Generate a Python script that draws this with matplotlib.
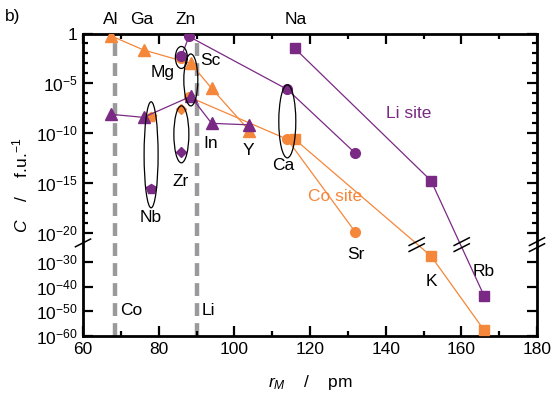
import numpy as np
import matplotlib
matplotlib.use("Agg")
import matplotlib.pyplot as plt
from matplotlib.patches import Ellipse
from matplotlib.lines import Line2D
from matplotlib.transforms import ScaledTranslation

plt.rcParams['font.family'] = ['Liberation Sans', 'DejaVu Sans']
plt.rcParams['mathtext.fontset'] = 'custom'
plt.rcParams['mathtext.rm'] = 'Liberation Sans'
plt.rcParams['mathtext.it'] = 'Liberation Sans:italic'
plt.rcParams['font.size'] = 12.5

ORANGE = "#F5873A"
PURPLE = "#7A2A84"
GREY = "#9A9A9C"

# ---- data: ionic radius r_M (pm) and concentration C (f.u.^-1) ----
tri_x = [67.5, 76, 88.5, 94, 104]            # Al, Ga, Sc, In, Y
li_tri = [10**-8.1, 10**-8.4, 10**-6.3, 10**-9.0, 10**-9.15]
co_tri = [10**-0.25, 10**-1.65, 10**-3.0, 10**-5.5, 10**-9.75]

circ_x = [86, 88, 114, 132]                  # Mg, Zn, Ca, Sr
li_circ = [10**-2.3, 10**-0.3, 10**-5.6, 10**-12.0]
co_circ = [10**-2.5, 10**-6.35, 10**-10.6, 10**-19.9]

sq_x = [116, 152, 166]                       # Na, K, Rb
li_sq = [10**-1.5, 10**-14.75, 10**-43.7]
co_sq = [10**-10.6, 10**-28.0, 10**-57.6]

zr_x, li_zr, co_zr = 86, 10**-11.9, 10**-7.6
nb_x, li_nb, co_nb = 78, 10**-15.6, 10**-8.4

host_x = [68.5, 90]                          # Co, Li
host_lbl = ["Co", "Li"]

ytick_vals = [1, 1e-5, 1e-10, 1e-15, 1e-20, 1e-30, 1e-40, 1e-50, 1e-60]
ytick_lbls = ["1", "$10^{-5}$", "$10^{-10}$", "$10^{-15}$", "$10^{-20}$",
              "$10^{-30}$", "$10^{-40}$", "$10^{-50}$", "$10^{-60}$"]


# broken log axis: 1..1e-20 full scale, 1e-20..1e-30 gap, below compressed
def fwd(c):
    L = np.log10(np.clip(np.asarray(c, dtype=float), 1e-300, None))
    return np.where(L >= -20, L,
                    np.where(L >= -30, -20 + (L + 20) * 0.287,
                             -22.87 + (L + 30) * 0.2477))


def inv(t):
    t = np.asarray(t, dtype=float)
    L = np.where(t >= -20, t,
                 np.where(t >= -22.87, -20 + (t + 20) / 0.287,
                          -30 + (t + 22.87) / 0.2477))
    return 10.0 ** L


fig = plt.figure(figsize=(5.56, 4.07), dpi=100)
ax = fig.add_axes([83 / 556, 1 - 336 / 407, 454 / 556, 302.5 / 407])
ax.set_yscale('function', functions=(fwd, inv))
ax.set_xlim(60, 180)
ax.set_ylim(1e-60, 1)

for hx in host_x:
    ax.axvline(hx, color=GREY, lw=3.2, ls=(0, (2.9, 1.6)), zorder=1)

lw = 0.9
ax.plot(tri_x, co_tri, '-^', color=ORANGE, lw=lw, ms=8, zorder=3)
ax.plot(circ_x[1:], co_circ[1:], '-', color=ORANGE, lw=lw, zorder=3)
ax.plot(circ_x, co_circ, 'o', color=ORANGE, ms=7, zorder=3)
ax.plot(sq_x, co_sq, '-s', color=ORANGE, lw=lw, ms=6.5, zorder=3)
ax.plot(zr_x, co_zr, 'D', color=ORANGE, ms=5.5, zorder=3)
ax.plot(nb_x, co_nb, 'p', color=ORANGE, ms=7.5, zorder=3)

ax.plot(circ_x, li_circ, '-o', color=PURPLE, lw=lw, ms=7, zorder=4)
ax.plot(tri_x, li_tri, '-^', color=PURPLE, lw=lw, ms=8, zorder=4)
ax.plot(sq_x, li_sq, '-s', color=PURPLE, lw=lw, ms=6.5, zorder=4)
ax.plot(zr_x, li_zr, 'D', color=PURPLE, ms=5.5, zorder=4)
ax.plot(nb_x, li_nb, 'p', color=PURPLE, ms=7.5, zorder=4)


def at(x, y):
    return fig.dpi_scale_trans + ScaledTranslation(x, y, ax.transData)


# ellipses grouping the two sites (sizes in inches)
for ex, ey, w, h in [(86, 10**-2.4, 0.12, 0.22), (88.5, 10**-4.65, 0.14, 0.52),
                     (78, 10**-12.15, 0.14, 1.06), (86, 10**-10.1, 0.15, 0.57),
                     (114, 10**-8.8, 0.17, 0.73)]:
    ax.add_patch(Ellipse((0, 0), w, h, transform=at(ex, ey), fill=False,
                         ec='black', lw=0.9, zorder=5))


# axis-break marks
def brk(x, y, n, ln=0.17, ang=27):
    dx = ln / 2 * np.cos(np.radians(ang))
    dy = ln / 2 * np.sin(np.radians(ang))
    offs = [0] if n == 1 else [0.03, -0.03]
    for o in offs:
        fig.add_artist(Line2D([-dx, dx], [-dy + o, dy + o], transform=at(x, y),
                              color='black', lw=1.1, clip_on=False, zorder=6))


ybr = 10**-24
brk(60, 10**-23.4, 1)
brk(180, ybr, 2)
brk(148.2, ybr, 2)
brk(160.1, ybr, 2)

# labels
txt = dict(fontsize=12.5, ha='center', va='center')
xt = ax.get_xaxis_transform()
for lx, lb in [(67.3, "Al"), (75.6, "Ga"), (87, "Zn"), (116.3, "Na")]:
    ax.text(lx, 1.045, lb, transform=xt, clip_on=False, **txt)
for lx, ly, lb in [(81.1, 10**-3.95, "Mg"), (93.6, 10**-2.75, "Sc"),
                   (93.8, 10**-11.0, "In"), (103.6, 10**-11.75, "Y"),
                   (85.9, 10**-14.85, "Zr"), (78, 10**-18.4, "Nb"),
                   (112.9, 10**-13.2, "Ca"), (132, 10**-27.3, "Sr"),
                   (152, 10**-37.8, "K"), (166, 10**-33.8, "Rb")]:
    ax.text(lx, ly, lb, **txt)
for hx, hl in zip(host_x, host_lbl):
    ax.text(hx + 1.3, 10**-49.5, hl, fontsize=12.5, ha='left', va='center')
ax.text(146.2, 10**-8.0, "Li site", color=PURPLE, **txt)
ax.text(126.6, 10**-16.3, "Co site", color=ORANGE, **txt)
fig.text(5 / 556, 1 - 16 / 407, "b)", fontsize=12.5, va='center', ha='left')

ax.set_xticks(np.arange(60, 181, 20))
ax.set_xticks(np.arange(70, 180, 20), minor=True)
ax.set_yticks(ytick_vals)
ax.set_yticklabels(ytick_lbls)
ax.set_yticks([10.0**-k for k in range(1, 20) if k % 5], minor=True)
ax.tick_params(which='both', direction='in', top=True, right=True, width=1.6,
               labelsize=12.5)
ax.tick_params(which='major', length=7, pad=4)
ax.tick_params(which='minor', length=3.5)
for s in ax.spines.values():
    s.set_linewidth(2)

ax.set_xlabel(r"$r_{M}$    /    pm", fontsize=12.5, labelpad=12)
ax.set_ylabel(r"$C$    /    f.u.$^{-1}$", fontsize=12.5, labelpad=4)

fig.savefig("out.png", dpi=100)
